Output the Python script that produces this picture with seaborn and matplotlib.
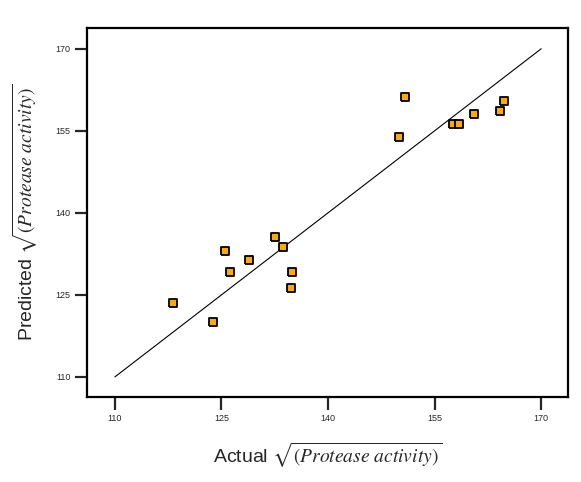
import numpy as np
import pandas as pd
import seaborn as sns
import matplotlib.pyplot as plt

# actual vs predicted values
actual = [118.2, 123.8, 125.5, 126.2, 128.9, 132.5, 133.7, 134.9, 134.8,
          150.8, 150.0, 157.6, 158.4, 160.5, 164.2, 164.8]
predicted = [123.6, 120.1, 133.1, 129.1, 131.4, 135.6, 133.8, 129.1, 126.2,
             161.1, 153.8, 156.3, 156.2, 158.1, 158.7, 160.5]

line_x = [110, 170]
line_y = [110, 170]
ticks = [110, 125, 140, 155, 170]

df = pd.DataFrame({"Actual": actual, "Predicted": predicted})

sns.set_style("white")
plt.rcParams['mathtext.fontset'] = 'stix'
plt.rcParams['font.family'] = ['Liberation Sans', 'DejaVu Sans']

# slightly wide rectangle marker, like the original
rect = [(-1.2, -1), (1.2, -1), (1.2, 1), (-1.2, 1), (-1.2, -1)]

fig, ax = plt.subplots(figsize=(5.81, 4.82), dpi=100)
fig.subplots_adjust(left=0.150, right=0.978, top=0.942, bottom=0.176)

sns.lineplot(x=line_x, y=line_y, color="black", linewidth=0.8, ax=ax)
sns.scatterplot(data=df, x="Actual", y="Predicted", marker=rect, s=40,
                color="#f7a81b", edgecolor="black", linewidth=1.3,
                zorder=3, ax=ax)

ax.set_xlim(106.1, 173.8)
ax.set_ylim(106.3, 173.8)
ax.set_xticks(ticks)
ax.set_yticks(ticks)
ax.tick_params(axis="both", direction="out", length=9, width=1.6,
               labelsize=6.5, pad=3, left=True, bottom=True)

for sp in ax.spines.values():
    sp.set_linewidth(1.6)
    sp.set_color("black")

ax.set_xlabel(r"Actual $\sqrt{(Protease\ activity)}$", fontsize=14, labelpad=13)
ax.set_ylabel(r"Predicted $\sqrt{(Protease\ activity)}$", fontsize=14, labelpad=11)

fig.savefig("out.png", dpi=100)
